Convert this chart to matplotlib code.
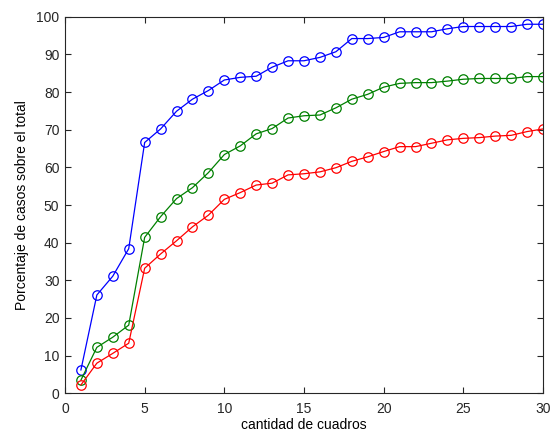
import matplotlib
matplotlib.use("Agg")
import matplotlib.pyplot as plt

plt.rcParams['font.family'] = ['Liberation Sans', 'DejaVu Sans']

cuadros = list(range(1, 31))

# porcentaje de casos
serie_azul = [6.2, 26.1, 31.1, 38.4, 66.6, 70.2, 74.9, 78.1, 80.4, 83.2,
              83.9, 84.2, 86.6, 88.3, 88.3, 89.2, 90.7, 94.2, 94.2, 94.5,
              96.0, 96.0, 96.0, 96.8, 97.4, 97.4, 97.4, 97.4, 98.0, 98.0]
serie_verde = [3.5, 12.2, 14.9, 18.1, 41.4, 46.9, 51.7, 54.6, 58.6, 63.4,
               65.7, 68.9, 70.3, 73.1, 73.7, 73.9, 75.8, 78.1, 79.4, 81.3,
               82.3, 82.5, 82.5, 82.9, 83.4, 83.6, 83.6, 83.6, 84.1, 84.1]
serie_roja = [2.2, 8.0, 10.6, 13.3, 33.2, 37.0, 40.5, 44.2, 47.3, 51.5,
              53.3, 55.3, 55.8, 58.0, 58.3, 58.8, 59.9, 61.6, 62.8, 64.2,
              65.5, 65.5, 66.4, 67.3, 67.7, 67.9, 68.3, 68.5, 69.5, 70.2]

xticks = [0, 5, 10, 15, 20, 25, 30]
yticks = [0, 10, 20, 30, 40, 50, 60, 70, 80, 90, 100]

fig = plt.figure(figsize=(5.53, 4.32), dpi=100)
ax = fig.add_axes([0.1175, 0.0896, 0.8645, 0.8717])

for serie, color in [(serie_azul, (0, 0, 1)), (serie_verde, (0, 0.5, 0)), (serie_roja, (1, 0, 0))]:
    ax.plot(cuadros, serie, color=color, lw=0.9, marker='o', ms=6.8,
            mfc='none', mec=color, mew=0.9)

ax.set_xlim(0, 30)
ax.set_ylim(0, 100)
ax.set_xticks(xticks)
ax.set_yticks(yticks)
ax.tick_params(direction='in', top=True, right=True, labelsize=10, length=4, width=0.8, colors='#262626')
ax.tick_params(axis='x', pad=6)
ax.tick_params(axis='y', pad=4)
for s in ax.spines.values():
    s.set_color('#262626')
    s.set_linewidth(0.8)

ax.set_xlabel('cantidad de cuadros', fontsize=10, labelpad=1.5)
ax.set_ylabel('Porcentaje de casos sobre el total', fontsize=10, labelpad=5)

fig.savefig('out.png', dpi=100)
